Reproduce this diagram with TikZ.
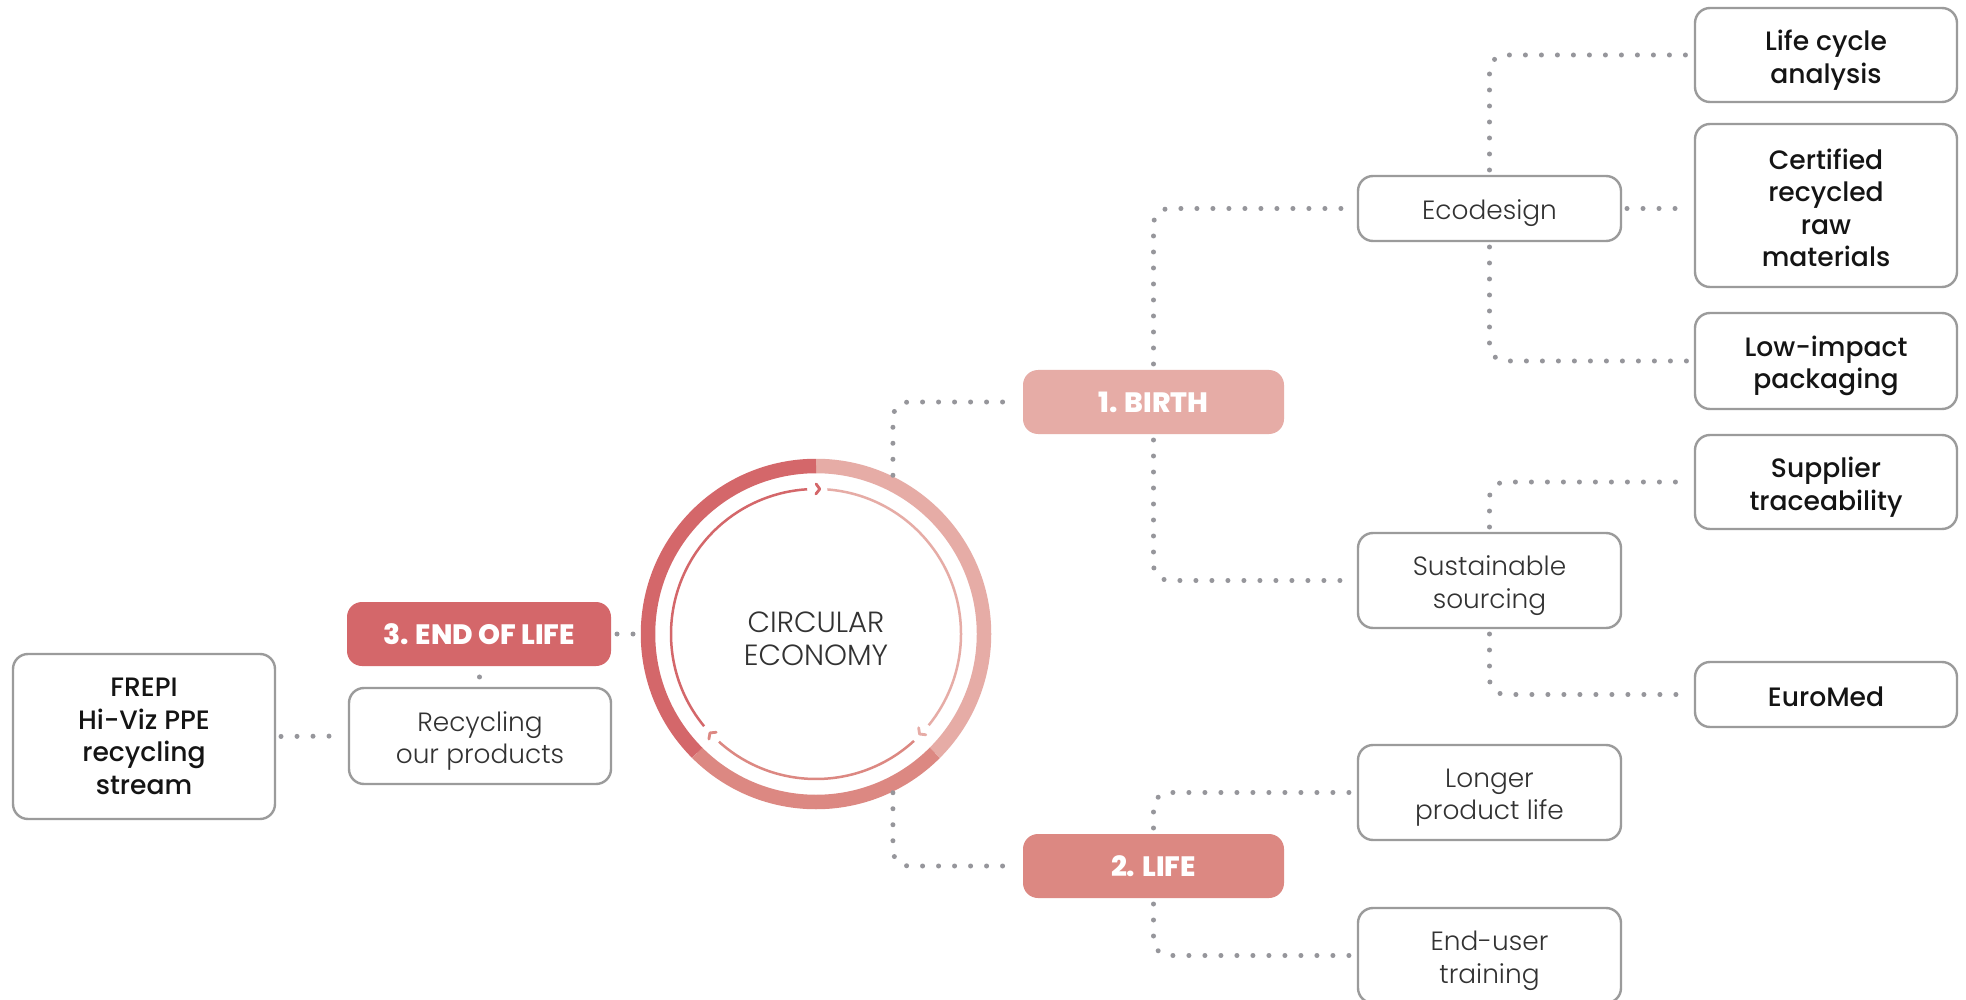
\documentclass[tikz,border=0pt]{standalone}
\usepackage{fontspec}
\IfFontExistsTF{Poppins Light}{\newfontfamily\flight{Poppins Light}}{\newfontfamily\flight{Poppins}}
\IfFontExistsTF{Poppins Medium}{\newfontfamily\fmedium{Poppins Medium}}{\newfontfamily\fmedium{Poppins}}
\IfFontExistsTF{Poppins ExtraBold}{\newfontfamily\fheavy{Poppins ExtraBold}}{%
  \IfFontExistsTF{Poppins Bold}{\newfontfamily\fheavy{Poppins Bold}}{\newfontfamily\fheavy{Poppins}[FakeBold=1.5]}}
\definecolor{ringlight}{RGB}{230,172,166}
\definecolor{ringmid}{RGB}{220,136,130}
\definecolor{ringdark}{RGB}{212,103,106}
\definecolor{dotgray}{RGB}{150,150,155}
\definecolor{framegray}{RGB}{155,155,155}
\definecolor{txtlight}{RGB}{50,50,50}
\definecolor{txtdark}{RGB}{20,20,20}
\begin{document}
\begin{tikzpicture}[x=0.5pt, y=-0.5pt,
  nbox/.style={draw=framegray, line width=1.2pt, rounded corners=7.5pt, fill=white,
    inner sep=0pt, outer sep=0pt},
  ltext/.style={align=center, inner sep=0pt, text=txtlight,
    font=\flight\fontsize{13.2}{16.3}\selectfont},
  mtext/.style={align=center, inner sep=0pt, text=txtdark,
    font=\fmedium\fontsize{13.3}{16.3}\selectfont},
  stage/.style={fill=#1, rounded corners=7.5pt, text=white, align=center,
    font=\fheavy\fontsize{14}{16.3}\selectfont, inner sep=0pt, outer sep=0pt,
    minimum height=32pt, minimum width=130.5pt},
  link/.style={draw=dotgray, line width=2.5pt, line cap=round,
    dash pattern=on 0pt off 8pt, rounded corners=8pt,
    shorten <=3pt, shorten >=3pt},
  band/.style={line width=7.25pt},
  thread/.style={line width=1.25pt},
  chev/.style={line width=1.4pt, line cap=round, line join=round}]

\useasboundingbox[fill=white] (0,0) rectangle (1966,1000);

% circular economy ring
\begin{scope}[shift={(816,634)}]
  \draw[ringlight, band] (90:84pt) arc[start angle=90, end angle=-45, radius=84pt];
  \draw[ringmid, band] (-45:84pt) arc[start angle=-45, end angle=-135, radius=84pt];
  \draw[ringdark, band] (225:84pt) arc[start angle=225, end angle=90, radius=84pt];
  % inner loop with its arrow heads
  \draw[ringdark, thread] (219.5:72.5pt) arc[start angle=219.5, end angle=93.5, radius=72.5pt];
  \draw[ringlight, thread] (85.5:72.5pt) arc[start angle=85.5, end angle=-39, radius=72.5pt];
  \draw[ringmid, thread] (-47.5:72.5pt) arc[start angle=-47.5, end angle=-132, radius=72.5pt];
  \draw[ringdark, chev, shift={(88.5:72.5pt)}, rotate=-1.5] (-1.9pt,2.5pt) -- (0pt,0pt) -- (-1.9pt,-2.5pt);
  \draw[ringlight, chev, shift={(-44:72pt)}, rotate=-134] (-1.9pt,2.5pt) -- (0pt,0pt) -- (-1.9pt,-2.5pt);
  \draw[ringmid, chev, shift={(-137:72.5pt)}, rotate=133] (-1.9pt,2.5pt) -- (0pt,0pt) -- (-1.9pt,-2.5pt);
\end{scope}
\node[circle, minimum size=175.5pt, inner sep=0pt, outer sep=0pt] (ce) at (816,634) {};
\node[ltext, font=\flight\fontsize{14.6}{16.3}\selectfont] (ce-t) at ([yshift=-2.5pt]ce.center) {CIRCULAR\\ECONOMY};

% stages
\node[stage=ringlight] (birth) at (1153.5,402) {1. BIRTH};
\node[stage=ringmid] (life) at (1153.5,866) {2. LIFE};
\node[stage=ringdark, minimum width=132pt] (eol) at (479,634) {3. END OF LIFE};

% second level
\node[nbox, minimum width=131.5pt, minimum height=32.5pt] (eco) at (1489.5,208.5) {};
\node[nbox, minimum width=131.5pt, minimum height=47.5pt] (sust) at (1489.5,580.5) {};
\node[nbox, minimum width=131.5pt, minimum height=47.5pt] (longer) at (1489.5,792.5) {};
\node[nbox, minimum width=131.5pt, minimum height=47.5pt] (user) at (1489.5,955.5) {};
\node[nbox, minimum width=131pt, minimum height=48pt] (recyc) at (480,736) {};
\node[ltext] (eco-t) at ([yshift=-2.3pt]eco.center) {Ecodesign};
\node[ltext] (sust-t) at ([yshift=-2.5pt]sust.center) {Sustainable\\sourcing};
\node[ltext] (longer-t) at ([yshift=-2.5pt]longer.center) {Longer\\product life};
\node[ltext] (user-t) at ([yshift=-2.5pt]user.center) {End-user\\training};
\node[ltext] (recyc-t) at ([yshift=-2.5pt]recyc.center) {Recycling\\our products};

% third level
\node[nbox, minimum width=131pt, minimum height=47pt] (lca) at (1826,55) {};
\node[nbox, minimum width=131pt, minimum height=81.5pt] (cert) at (1826,205.5) {};
\node[nbox, minimum width=131pt, minimum height=48pt] (pack) at (1826,361) {};
\node[nbox, minimum width=131pt, minimum height=47pt] (supp) at (1826,482) {};
\node[nbox, minimum width=131pt, minimum height=32.5pt] (euro) at (1826,694.5) {};
\node[nbox, minimum width=131pt, minimum height=82.5pt] (frepi) at (144,736.5) {};
\node[mtext] (lca-t) at ([yshift=-2.5pt]lca.center) {Life cycle\\analysis};
\node[mtext] (cert-t) at ([yshift=-1.2pt]cert.center) {Certified\\recycled\\raw\\materials};
\node[mtext] (pack-t) at ([yshift=-2.5pt]pack.center) {Low-impact\\packaging};
\node[mtext] (supp-t) at ([yshift=-2.5pt]supp.center) {Supplier\\traceability};
\node[mtext] (euro-t) at ([yshift=-1.2pt]euro.center) {EuroMed};
\node[mtext] (frepi-t) at (frepi.center) {FREPI\\Hi-Viz PPE\\recycling\\stream};

% dotted connectors
\draw[link, shorten <=0.5pt] (ce.64) |- (birth.west);
\draw[link, shorten <=0.5pt] (ce.-64) |- (life.west);
\draw[link] (eol.east) -- (ce.west);
\draw[link, shorten <=5.5pt, shorten >=0pt] (eol.south) -- (recyc.north);
\draw[link] (frepi.east) -- (recyc.west);
\draw[link] (birth.north) |- (eco.west);
\draw[link] (birth.south) |- (sust.west);
\draw[link] (life.north) |- (longer.west);
\draw[link] (life.south) |- (user.west);
\draw[link] (eco.north) |- (lca.west);
\draw[link] (eco.east) -- (eco.east -| cert.west);
\draw[link] (eco.south) |- (pack.west);
\draw[link] (sust.north) |- (supp.west);
\draw[link] (sust.south) |- (euro.west);
\end{tikzpicture}
\end{document}
